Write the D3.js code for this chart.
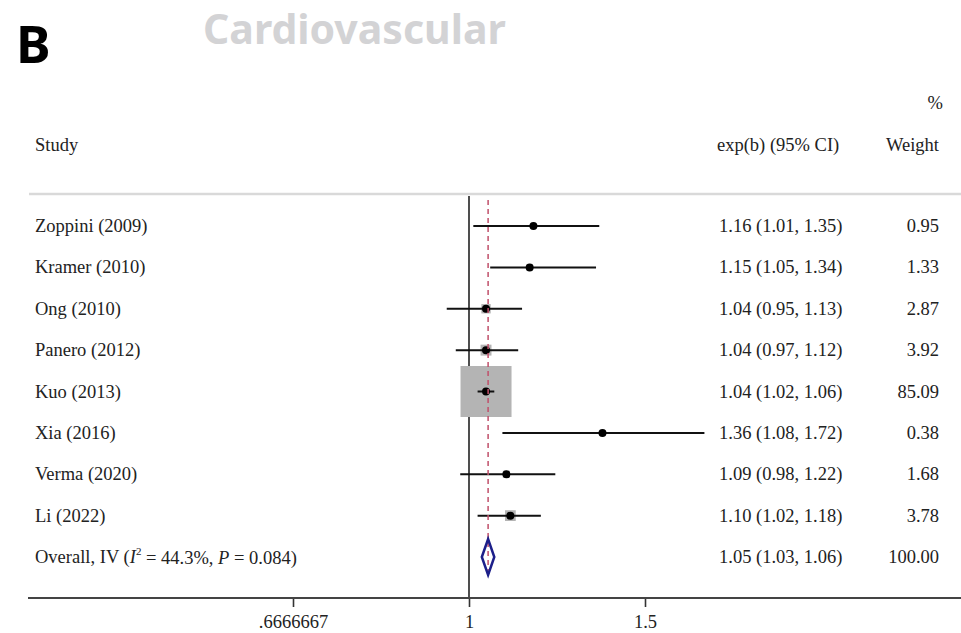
<!DOCTYPE html>
<html><head><meta charset="utf-8">
<script src="https://cdn.jsdelivr.net/npm/d3@7"></script>
<style>body{margin:0;background:#fff}</style>
</head><body>
<svg id="c" width="961" height="633"></svg>
<script>
const studies = ["Zoppini (2009)","Kramer (2010)","Ong (2010)","Panero (2012)","Kuo (2013)","Xia (2016)","Verma (2020)","Li (2022)"];
const est   = [1.16,1.15,1.04,1.04,1.04,1.36,1.09,1.10];
const lower = [1.01,1.05,0.95,0.97,1.02,1.08,0.98,1.02];
const upper = [1.35,1.34,1.13,1.12,1.06,1.72,1.22,1.18];
const weights = [0.95,1.33,2.87,3.92,85.09,0.38,1.68,3.78];
const ciLabels = ["1.16 (1.01, 1.35)","1.15 (1.05, 1.34)","1.04 (0.95, 1.13)","1.04 (0.97, 1.12)","1.04 (1.02, 1.06)","1.36 (1.08, 1.72)","1.09 (0.98, 1.22)","1.10 (1.02, 1.18)"];
const weightLabels = ["0.95","1.33","2.87","3.92","85.09","0.38","1.68","3.78"];
const overall = {est:1.045, lower:1.03, upper:1.06, ci:"1.05 (1.03, 1.06)", weight:"100.00"};
const xTicks = [2/3, 1, 1.5];
const xTickLabels = [".6666667","1","1.5"];

const svg = d3.select("#c");
const serif = "'Liberation Serif','Times New Roman',serif";
const fs = 18.5;

const x = d3.scaleLog().domain([2/3, 1.5]).range([293, 645]);
const rows = studies.concat(["Overall"]);
const y = d3.scalePoint().domain(rows).range([226, 557]);

// title
svg.append("text").attr("x",16).attr("y",63).attr("font-family","'Noto Sans','Open Sans',sans-serif")
  .attr("font-weight",700).attr("font-size",52).attr("fill","#000").text("B");
svg.append("text").attr("x",203).attr("y",44).attr("font-family","'Noto Sans','Open Sans',sans-serif")
  .attr("font-weight",700).attr("font-size",41).attr("fill","#d3d3d5").text("Cardiovascular");

// header
const hdr = svg.append("g").attr("font-family",serif).attr("font-size",fs).attr("fill","#222");
hdr.append("text").attr("x",35).attr("y",151).text("Study");
hdr.append("text").attr("x",717).attr("y",151).text("exp(b) (95% CI)");
hdr.append("text").attr("x",939).attr("y",151).attr("text-anchor","end").text("Weight");
hdr.append("text").attr("x",943).attr("y",109).attr("text-anchor","end").text("%");

// top separator
svg.append("line").attr("x1",29).attr("x2",961).attr("y1",194).attr("y2",194)
  .attr("stroke","#d9d9d9").attr("stroke-width",2.5);

// null line
svg.append("line").attr("x1",x(1)).attr("x2",x(1)).attr("y1",196).attr("y2",598)
  .attr("stroke","#222").attr("stroke-width",1.6);

// boxes
const maxW = d3.max(weights);
const side = d => 51*Math.sqrt(d/maxW);
const g = svg.append("g");
studies.forEach((s,i)=>{
  const sd = side(weights[i]);
  g.append("rect").attr("x",x(est[i])-sd/2).attr("y",y(s)-sd/2).attr("width",sd).attr("height",sd)
    .attr("fill","#b4b4b4");
});

// overall dashed line
svg.append("line").attr("x1",x(overall.est)).attr("x2",x(overall.est)).attr("y1",200).attr("y2",578)
  .attr("stroke","#c0506a").attr("stroke-width",1.5).attr("stroke-dasharray","5,4");

studies.forEach((s,i)=>{
  g.append("line").attr("x1",x(lower[i])).attr("x2",x(upper[i])).attr("y1",y(s)).attr("y2",y(s))
    .attr("stroke","#111").attr("stroke-width",2);
  g.append("circle").attr("cx",x(est[i])).attr("cy",y(s)).attr("r",4).attr("fill","#000");
});

// diamond
const yo = y("Overall");
svg.append("path").attr("d",`M${x(overall.lower)},${yo} L${x(overall.est)},${yo-18} L${x(overall.upper)},${yo} L${x(overall.est)},${yo+18} Z`)
  .attr("fill","none").attr("stroke","#1c1f8a").attr("stroke-width",2.5);

// row texts
const t = svg.append("g").attr("font-family",serif).attr("font-size",fs).attr("fill","#222");
studies.forEach((s,i)=>{
  t.append("text").attr("x",35).attr("y",y(s)).attr("dy","0.33em").text(s);
  t.append("text").attr("x",719).attr("y",y(s)).attr("dy","0.33em").text(ciLabels[i]);
  t.append("text").attr("x",939).attr("y",y(s)).attr("dy","0.33em").attr("text-anchor","end").text(weightLabels[i]);
});
const ot = t.append("text").attr("x",35).attr("y",yo).attr("dy","0.33em");
ot.append("tspan").text("Overall, IV (");
ot.append("tspan").attr("font-style","italic").text("I");
ot.append("tspan").attr("font-size",11).attr("dy","-0.7em").text("2");
ot.append("tspan").attr("dy","0.45em").text(" = 44.3%, ");
ot.append("tspan").attr("font-style","italic").text("P");
ot.append("tspan").text(" = 0.084)");
t.append("text").attr("x",719).attr("y",yo).attr("dy","0.33em").text(overall.ci);
t.append("text").attr("x",939).attr("y",yo).attr("dy","0.33em").attr("text-anchor","end").text(overall.weight);

// axis
const ax = svg.append("g").attr("transform","translate(0,598)");
ax.call(d3.axisBottom(x).tickValues(xTicks).tickFormat((d,i)=>xTickLabels[i]).tickSize(9).tickPadding(8));
ax.select(".domain").remove();
ax.selectAll(".tick line").attr("stroke","#333").attr("stroke-width",1.6);
ax.selectAll(".tick text").attr("font-family",serif).attr("font-size",fs).attr("fill","#222");
ax.append("line").attr("x1",28).attr("x2",961).attr("y1",0).attr("y2",0).attr("stroke","#444").attr("stroke-width",2);
</script>
</body></html>
